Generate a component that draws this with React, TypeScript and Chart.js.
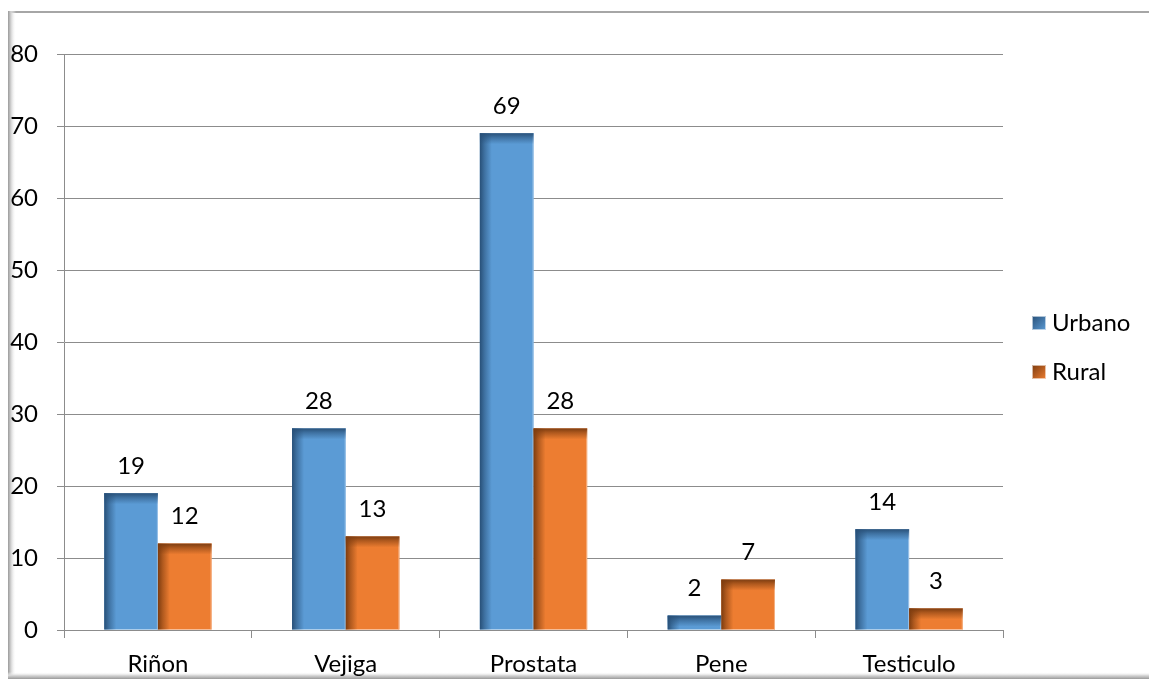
import React, { useEffect, useRef } from "react";
import { Chart, registerables } from "chart.js";

Chart.register(...registerables);

const categories = ["Riñon", "Vejiga", "Prostata", "Pene", "Testiculo"];
const seriesNames = ["Urbano", "Rural"];
const urbanoValues = [19, 28, 69, 2, 14];
const ruralValues = [12, 13, 28, 7, 3];
const yTicks = [0, 10, 20, 30, 40, 50, 60, 70, 80];

const FONT = "Lato, 'Open Sans', sans-serif";
const FONT_SIZE = 24;
const BASE = ["#5B9BD5", "#ED7D31"];
const DARK = ["rgba(40,80,120,", "rgba(125,60,15,"];
const LIGHT = ["#9cc3e8", "#f5b184"];

// Page frame: a thin top rule and shaded left/bottom edges
const framePlugin = {
  id: "frame",
  beforeDraw(chart: any) {
    const ctx = chart.ctx as CanvasRenderingContext2D;
    const W = chart.width;
    const H = chart.height;
    ctx.save();
    ctx.fillStyle = "#ffffff";
    ctx.fillRect(0, 0, W, H);
    ctx.fillStyle = "#a6a6a6";
    ctx.fillRect(9, 11, W - 9, 2);
    const lg = ctx.createLinearGradient(8, 0, 16, 0);
    lg.addColorStop(0, "#9a9a9a");
    lg.addColorStop(0.35, "#d0d0d0");
    lg.addColorStop(1, "rgba(255,255,255,0)");
    ctx.fillStyle = lg;
    ctx.fillRect(8, 11, 8, H - 11);
    const bg = ctx.createLinearGradient(0, H - 7, 0, H);
    bg.addColorStop(0, "rgba(255,255,255,0)");
    bg.addColorStop(0.5, "#d6d6d6");
    bg.addColorStop(1, "#9a9a9a");
    ctx.fillStyle = bg;
    ctx.fillRect(8, H - 7, W - 8, 7);
    ctx.restore();
  },
};

// Bevel shading on bars, value labels and the legend
const barDecorPlugin = {
  id: "barDecor",
  afterDatasetsDraw(chart: any) {
    const ctx = chart.ctx as CanvasRenderingContext2D;
    ctx.save();
    chart.data.datasets.forEach((ds: any, di: number) => {
      const meta = chart.getDatasetMeta(di);
      meta.data.forEach((bar: any, i: number) => {
        const left = bar.x - bar.width / 2;
        const top = bar.y;
        const h = bar.base - bar.y;
        const w = bar.width;
        if (h <= 0) return;
        // light rim on the right and top
        ctx.fillStyle = LIGHT[di];
        ctx.fillRect(left + w - 1, top, 1, h);
        ctx.fillRect(left, top, w, 1);
        const sw = Math.min(12, w / 3);
        const gl = ctx.createLinearGradient(left, 0, left + sw, 0);
        gl.addColorStop(0, DARK[di] + "1)");
        gl.addColorStop(0.4, DARK[di] + "0.55)");
        gl.addColorStop(1, DARK[di] + "0)");
        ctx.fillStyle = gl;
        ctx.fillRect(left, top, sw, h);
        const th = Math.min(11, h);
        const gt = ctx.createLinearGradient(0, top, 0, top + th);
        gt.addColorStop(0, DARK[di] + "1)");
        gt.addColorStop(0.4, DARK[di] + "0.55)");
        gt.addColorStop(1, DARK[di] + "0)");
        ctx.fillStyle = gt;
        ctx.fillRect(left, top, w, th);

        ctx.fillStyle = "#000000";
        ctx.font = `${FONT_SIZE}px ${FONT}`;
        ctx.textAlign = "center";
        ctx.textBaseline = "middle";
        ctx.fillText(String(ds.data[i]), bar.x, bar.y - 27);
      });
    });

    // Legend
    const lx = 1032;
    const ys = [323, 372];
    chart.data.datasets.forEach((ds: any, di: number) => {
      const y = ys[di];
      const s = 14;
      const g = ctx.createLinearGradient(lx, y - s / 2, lx + s, y + s / 2);
      g.addColorStop(0, DARK[di] + "1)");
      g.addColorStop(1, BASE[di]);
      ctx.fillStyle = g;
      ctx.fillRect(lx, y - s / 2, s, s);
      ctx.strokeStyle = "rgba(255,255,255,0.6)";
      ctx.lineWidth = 1;
      ctx.strokeRect(lx + 0.5, y - s / 2 + 0.5, s - 1, s - 1);
      ctx.fillStyle = "#000000";
      ctx.font = `${FONT_SIZE}px ${FONT}`;
      ctx.textAlign = "left";
      ctx.textBaseline = "middle";
      ctx.fillText(ds.label, lx + 20, y);
    });
    ctx.restore();
  },
};

export default function App() {
  const ref = useRef<HTMLCanvasElement | null>(null);

  useEffect(() => {
    if (!ref.current) return;
    const chart = new Chart(ref.current, {
      type: "bar",
      data: {
        labels: categories,
        datasets: [
          {
            label: seriesNames[0],
            data: urbanoValues,
            backgroundColor: BASE[0],
            categoryPercentage: 2 / 3.5,
            barPercentage: 1,
          },
          {
            label: seriesNames[1],
            data: ruralValues,
            backgroundColor: BASE[1],
            categoryPercentage: 2 / 3.5,
            barPercentage: 1,
          },
        ],
      },
      options: {
        responsive: false,
        animation: false,
        layout: { padding: { top: 54, right: 146, left: 0, bottom: 0 } },
        plugins: {
          legend: { display: false },
          tooltip: { enabled: false },
        },
        scales: {
          x: {
            grid: {
              drawOnChartArea: false,
              drawTicks: true,
              tickLength: 8,
              color: "#8c8c8c",
            },
            border: { color: "#8c8c8c", width: 1 },
            ticks: {
              color: "#000000",
              font: { family: FONT, size: FONT_SIZE },
              padding: 12,
            },
            afterFit(scale: any) {
              scale.height = 49;
            },
          },
          y: {
            min: 0,
            max: 80,
            afterBuildTicks(scale: any) {
              scale.ticks = yTicks.map((v) => ({ value: v }));
            },
            grid: {
              color: "#8c8c8c",
              tickLength: 7,
            },
            border: { color: "#8c8c8c", width: 1 },
            ticks: {
              color: "#000000",
              font: { family: FONT, size: FONT_SIZE },
              padding: 19,
            },
            afterFit(scale: any) {
              scale.width = 64;
            },
          },
        },
      },
      plugins: [framePlugin, barDecorPlugin],
    });
    return () => chart.destroy();
  }, []);

  return (
    <div style={{ position: "absolute", left: 0, top: 0, width: 1149, height: 679 }}>
      <canvas ref={ref} width={1149} height={679} />
    </div>
  );
}
